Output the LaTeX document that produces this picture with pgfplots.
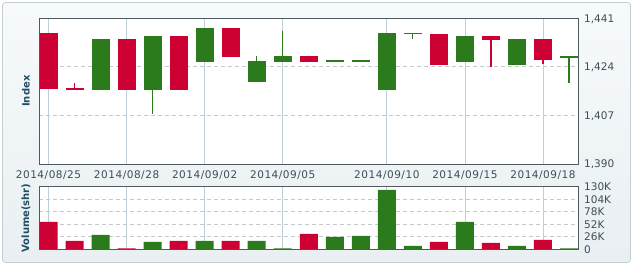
\documentclass[border=0pt]{standalone}
\usepackage{fontspec}
\setmainfont{DejaVu Sans}
\newfontfamily\xlabfont[LetterSpace=5]{DejaVu Sans}
\usepackage{pgfplots}
\pgfplotsset{compat=1.18}
\usepackage{pgfplotstable}
\definecolor{cred}{HTML}{CC0033}
\definecolor{cgreen}{HTML}{2B7A1C}
\definecolor{lblc}{HTML}{3E4E55}
\definecolor{ttl}{HTML}{1F4F60}
\definecolor{vgrid}{HTML}{BCD0D8}
\definecolor{hgrid}{HTML}{C4C9CC}
\definecolor{framec}{HTML}{4F5A5E}
\definecolor{bgtop}{HTML}{F7FAFB}
\definecolor{bgbot}{HTML}{E9EFF2}
\definecolor{bgborder}{HTML}{C5CED2}

% red candles: x, body top, body bottom, high, low
\pgfplotstableread{
x  top     bot     hi      lo
0  1435.9  1416.4  1435.9  1416.4
1  1416.6  1415.9  1418.5  1415.9
3  1433.8  1415.9  1433.8  1415.9
5  1434.8  1415.9  1434.8  1415.9
7  1437.6  1427.5  1437.6  1427.5
10 1427.8  1425.7  1427.8  1425.7
15 1435.5  1424.7  1435.5  1424.7
17 1434.8  1433.4  1434.8  1423.9
19 1433.8  1426.4  1433.8  1425.0
}\redtab

% green candles
\pgfplotstableread{
x  top     bot     hi      lo
2  1433.8  1415.9  1433.8  1415.9
4  1434.8  1415.9  1434.8  1407.4
6  1437.6  1425.7  1437.6  1425.7
8  1426.1  1418.7  1427.8  1418.7
9  1427.8  1425.7  1436.7  1425.7
11 1426.3  1425.7  1426.3  1425.7
12 1426.3  1425.7  1426.3  1425.7
13 1436.0  1415.9  1436.0  1415.9
14 1436.0  1435.4  1436.0  1433.8
16 1434.8  1425.7  1434.8  1425.7
18 1433.8  1424.7  1433.8  1424.7
20 1427.9  1427.0  1427.9  1418.2
}\greentab

% volume (thousand shares)
\pgfplotstableread{
x  v
0  56.9
1  17.3
3  2.0
5  17.3
7  17.3
10 31.9
15 15.3
17 13.2
19 19.4
}\redvol

\pgfplotstableread{
x  v
2  29.8
4  15.3
6  17.3
8  17.3
9  2.0
11 25.7
12 27.7
13 123.4
14 6.9
16 56.9
18 6.9
20 2.0
}\greenvol

\pgfplotsset{
  chartbase/.style={
    scale only axis, width=539pt,
    xmin=-0.354, xmax=20.357,
    xtick={0,3,6,9,13,16,19},
    yticklabel pos=right,
    major tick length=0pt,
    xmajorgrids, ymajorgrids,
    x grid style={vgrid, line width=0.8pt},
    y grid style={hgrid, dash pattern=on 4pt off 3pt, line width=0.8pt},
    axis line style={framec, line width=0.9pt},
    axis background/.style={fill=white},
    tick label style={font=\fontsize{10.5}{12}\selectfont, text=lblc},
    /pgf/number format/assume math mode=true,
    /pgf/number format/1000 sep={,},
    xticklabel style={anchor=base, inner sep=0pt, yshift=-15pt, font=\xlabfont\fontsize{10.5}{12}\selectfont},
    yticklabel style={anchor=base west, inner sep=0pt, xshift=5.7pt, yshift=-3.8pt},
    every axis y label/.style={at={(axis description cs:0,0.5)}, xshift=-13.3pt,
      rotate=90, anchor=center, font=\bfseries\fontsize{10}{12}\selectfont, text=ttl},
  },
  body/.style={draw=none, mark=none, forget plot,
    error bars/.cd, y dir=both, y explicit, error mark=none,
    error bar style={draw=#1, line width=18pt, line cap=butt}},
  wick/.style={draw=none, mark=none, forget plot,
    error bars/.cd, y dir=both, y explicit, error mark=none,
    error bar style={draw=#1, line width=1.2pt, line cap=butt}},
}

\begin{document}
\begin{tikzpicture}
\useasboundingbox (0,0) rectangle (633pt,265pt);
\draw[rounded corners=3pt, draw=bgborder, line width=0.8pt, top color=bgtop, bottom color=bgbot]
  (2.5pt,2.5pt) rectangle (630.5pt,262.5pt);

\begin{axis}[chartbase,
  at={(39.3pt,101pt)}, anchor=south west, height=145.7pt,
  ymin=1390, ymax=1441,
  ytick={1390,1407,1424,1441},
  xticklabels={2014/08/25,2014/08/28,2014/09/02,2014/09/05,2014/09/10,2014/09/15,2014/09/18},
  ylabel={Index},
]
\addplot[wick=cred] table[x=x, y expr=(\thisrow{hi}+\thisrow{lo})/2, y error expr=(\thisrow{hi}-\thisrow{lo})/2] {\redtab};
\addplot[wick=cgreen] table[x=x, y expr=(\thisrow{hi}+\thisrow{lo})/2, y error expr=(\thisrow{hi}-\thisrow{lo})/2] {\greentab};
\addplot[body=cred] table[x=x, y expr=(\thisrow{top}+\thisrow{bot})/2, y error expr=(\thisrow{top}-\thisrow{bot})/2] {\redtab};
\addplot[body=cgreen] table[x=x, y expr=(\thisrow{top}+\thisrow{bot})/2, y error expr=(\thisrow{top}-\thisrow{bot})/2] {\greentab};
\end{axis}

\begin{axis}[chartbase,
  at={(39.3pt,15.7pt)}, anchor=south west, height=62.6pt,
  ymin=0, ymax=130,
  ytick={0,26,52,78,104,130},
  yticklabels={0,26K,52K,78K,104K,130K},
  xticklabels={},
  ylabel={Volume(shr)},
]
\addplot[ybar, bar width=18pt, bar shift=0pt, fill=cred, draw=none] table[x=x, y=v] {\redvol};
\addplot[ybar, bar width=18pt, bar shift=0pt, fill=cgreen, draw=none] table[x=x, y=v] {\greenvol};
\end{axis}
\end{tikzpicture}
\end{document}
